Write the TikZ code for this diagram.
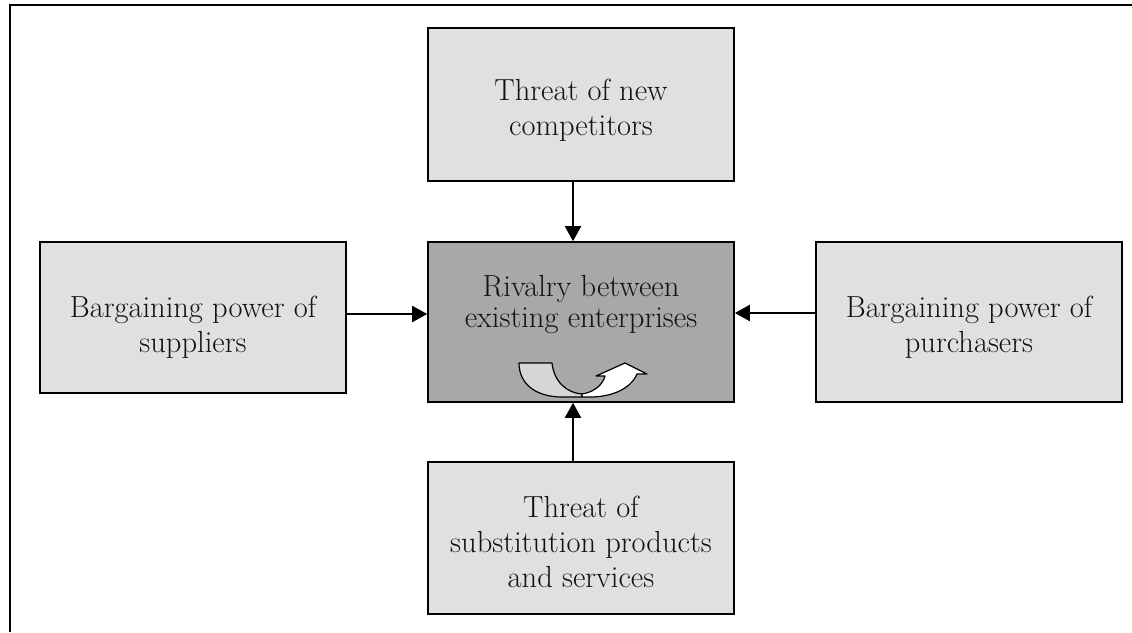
\documentclass[tikz,border=0pt]{standalone}
\usepackage{fontspec}
\usetikzlibrary{arrows.meta}
\definecolor{boxgray}{RGB}{224,224,224}
\definecolor{coregray}{RGB}{168,168,168}
\definecolor{turngray}{RGB}{214,214,214}
\definecolor{inkgray}{RGB}{18,18,18}
\begin{document}
\begin{tikzpicture}[x=1pt,y=-1pt,
  forcebox/.style={draw=black, line width=1.6pt, fill=boxgray, minimum width=306pt, inner sep=0pt},
  corebox/.style={forcebox, fill=coregray},
  label/.style={align=center, inner sep=0pt, text=inkgray, font=\fontsize{30.5}{35}\selectfont},
  flow/.style={line width=2pt, -{Triangle[length=15pt,width=16pt]}},
  turn/.style={draw=black, line width=1.2pt, line join=round}
]
\useasboundingbox (0,0) rectangle (1132,632);

% page frame (top and left rules)
\draw[line width=2pt] (1132,5) -- (10,5) -- (10,632);

% the five forces
\node[forcebox, minimum height=153pt] (top)    at (581,104.5) {};
\node[corebox,  minimum height=160pt] (core)   at (581,322)   {};
\node[forcebox, minimum height=151pt] (left)   at (193,317.5) {};
\node[forcebox, minimum height=160pt] (right)  at (969,322)   {};
\node[forcebox, minimum height=152pt] (bottom) at (581,538)   {};

% labels
\node[label] (toptext)    at (581,109.9) {Threat of new\\competitors};
\node[label, font=\fontsize{30.5}{31}\selectfont] (coretext) at (581,304.9) {Rivalry between\\existing enterprises};
\node[label] (lefttext)   at (193,326.9) {Bargaining power of\\suppliers};
\node[label] (righttext)  at (969,326.9) {Bargaining power of\\purchasers};
\node[label] (bottomtext) at (581,542.4) {Threat of\\substitution products\\and services};

% connectors into the rivalry box
\draw[flow] ([xshift=-8pt]top.south) -- ([xshift=-8pt]core.north);
\draw[flow] ([xshift=-8pt]bottom.north) -- ([xshift=-8pt]core.south);
\coordinate (lin) at ([yshift=3.5pt]left.east);
\draw[flow] (lin) -- (lin -| core.west);
\coordinate (rin) at ([yshift=9pt]right.west);
\draw[flow] (rin) -- (rin -| core.east);

% U-turn arrow inside the rivalry box
\begin{scope}[shift={(core.center)}]
  \draw[turn, fill=turngray]
    (-62,41) -- (-29,41) .. controls (-27,60) and (-14,71) .. (1,72)
    -- (1,75) -- (-19,75) .. controls (-45,75) and (-62,62) .. (-62,41) -- cycle;
  \draw[turn, fill=white]
    (1,72) .. controls (14,70) and (22,62) .. (24,54) -- (15,54) -- (44,41)
    -- (66,52) -- (56,52) .. controls (49,68) and (29,75) .. (9,75) -- (1,75) -- cycle;
\end{scope}
\end{tikzpicture}
\end{document}
